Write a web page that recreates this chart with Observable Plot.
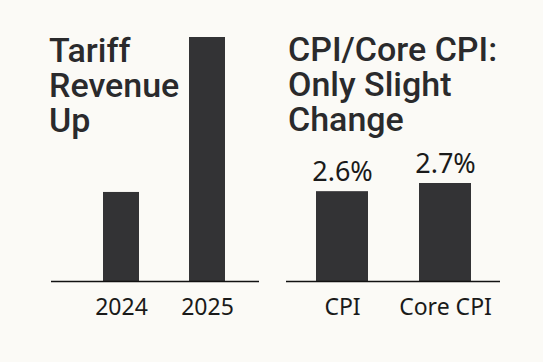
<!DOCTYPE html>
<html>
<head>
<meta charset="utf-8">
<script src="https://cdn.jsdelivr.net/npm/d3@7"></script>
<script src="https://cdn.jsdelivr.net/npm/@observablehq/plot@0.6"></script>
<style>
  html, body { margin: 0; padding: 0; background: #fbfaf6; }
  #wrap { position: relative; width: 543px; height: 362px; overflow: hidden; background: #fbfaf6; }
  .panel { position: absolute; top: 0; }
  .title { position: absolute; font-family: Roboto, "Noto Sans", sans-serif; font-weight: 500; font-size: 34px; color: #2a2a2c; white-space: nowrap; }
  .title div { height: 35px; line-height: 35px; }
</style>
</head>
<body>
<div id="wrap">
  <div class="panel" id="left" style="left:0px"></div>
  <div class="panel" id="right" style="left:271px"></div>
  <div class="title" id="t1" style="left:49px; top:33px"></div>
  <div class="title" id="t2" style="left:288px; top:32px"></div>
</div>
<script>
// Left panel: tariff revenue (billions USD, estimated, no axis shown)
const tariffYears = ["2024", "2025"];
const tariffRevenue = [77, 211];
const tariffTitle = ["Tariff", "Revenue", "Up"];

// Right panel: CPI vs Core CPI (% y/y)
const cpiLabels = ["CPI", "Core CPI"];
const cpiValues = [2.6, 2.7];
const cpiValueLabels = ["2.6%", "2.7%"];
const cpiTitle = ["CPI/Core CPI:", "Only Slight", "Change"];
const cpiDomain = [1.5, 2.7];

const barColor = "#333335";

const tariffData = tariffYears.map((y, i) => ({year: y, value: tariffRevenue[i]}));
const cpiData = cpiLabels.map((c, i) => ({name: c, value: cpiValues[i], label: cpiValueLabels[i]}));

const left = Plot.plot({
  width: 271,
  height: 362,
  marginLeft: 51,
  marginRight: 12,
  marginTop: 37,
  marginBottom: 81,
  style: {background: "transparent", fontFamily: "'Noto Sans', sans-serif", color: "#1a1a1a"},
  x: {domain: tariffYears, paddingInner: 0.578, paddingOuter: 0.491, align: 0.61, label: null},
  y: {domain: [0, d3.max(tariffRevenue)], axis: null},
  marks: [
    Plot.barY(tariffData, {x: "year", y: "value", fill: barColor}),
    Plot.ruleY([0], {stroke: "#111", strokeWidth: 1.5}),
    Plot.axisX({tickSize: 0, tickPadding: 17, fontSize: 23, label: null})
  ]
});
document.getElementById("left").appendChild(left);

const right = Plot.plot({
  width: 272,
  height: 362,
  marginLeft: 15,
  marginRight: 43,
  marginTop: 183,
  marginBottom: 81,
  style: {background: "transparent", fontFamily: "'Noto Sans', sans-serif", color: "#1a1a1a", overflow: "visible"},
  x: {domain: cpiLabels, paddingInner: 0.5, paddingOuter: 0.279, label: null},
  y: {domain: cpiDomain, axis: null, clamp: true},
  marks: [
    Plot.barY(cpiData, {x: "name", y1: cpiDomain[0], y2: "value", fill: barColor}),
    Plot.ruleY([cpiDomain[0]], {stroke: "#111", strokeWidth: 1.5}),
    Plot.text(cpiData, {x: "name", y: "value", text: "label", lineAnchor: "bottom", dy: -11, fontSize: 27, fill: "#1a1a1a"}),
    Plot.axisX({tickSize: 0, tickPadding: 17, fontSize: 23, label: null})
  ]
});
document.getElementById("right").appendChild(right);

for (const [id, lines] of [["t1", tariffTitle], ["t2", cpiTitle]]) {
  const el = document.getElementById(id);
  for (const line of lines) {
    const d = document.createElement("div");
    d.textContent = line;
    el.appendChild(d);
  }
}
</script>
</body>
</html>
